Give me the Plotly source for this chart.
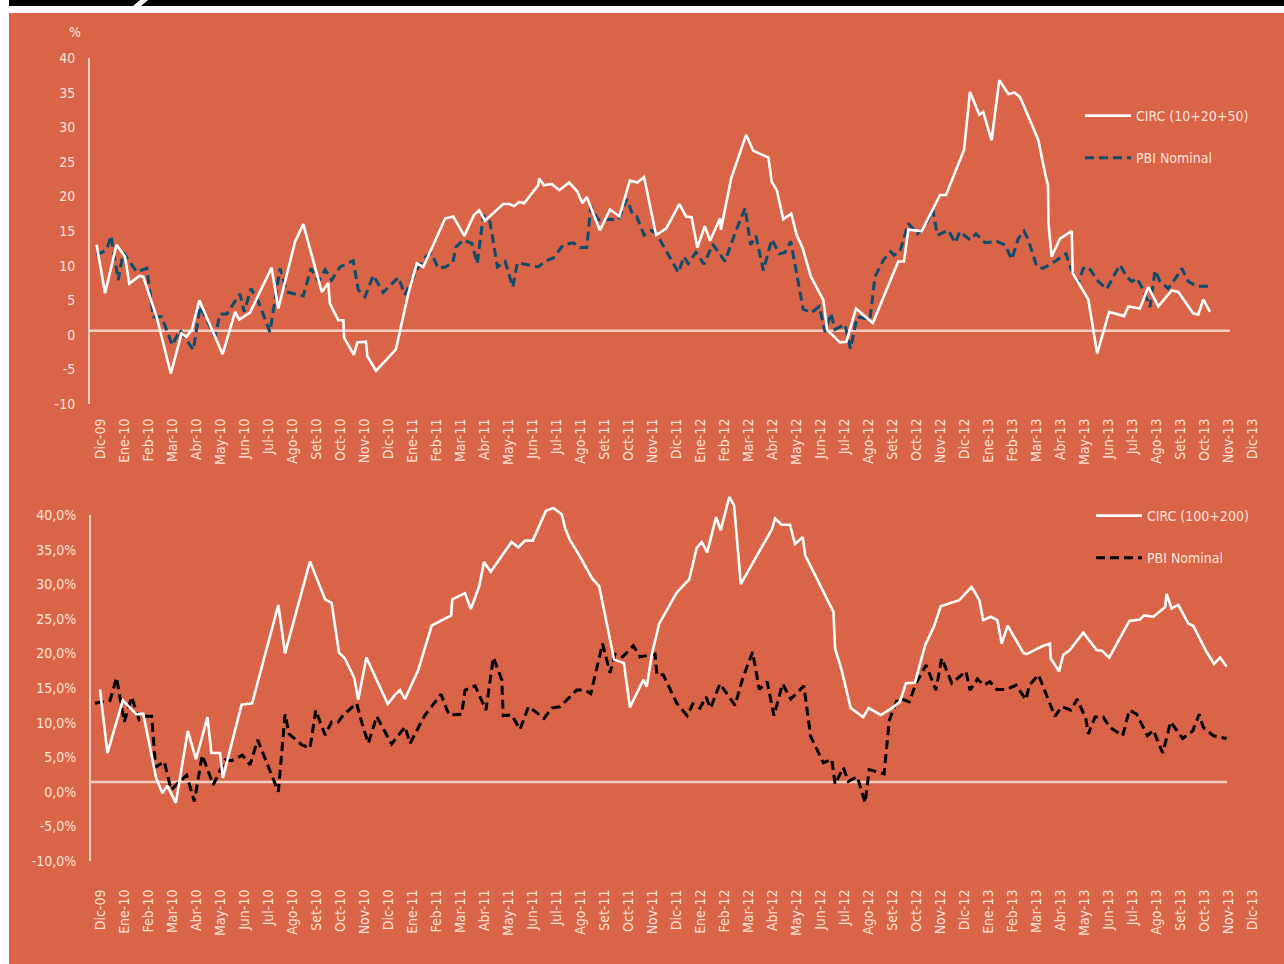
import plotly.graph_objects as go

W, H = 1284, 964

# ---------------- data ----------------
# time axis: months since Dic-09 (0 = Dic-09, 1 = Ene-10, ...)
month_abbr = ["Ene", "Feb", "Mar", "Abr", "May", "Jun", "Jul", "Ago", "Set", "Oct", "Nov", "Dic"]
tick_labels = ["Dic-09"] + [f"{m}-{y:02d}" for y in range(10, 14) for m in month_abbr]
tick_pos = list(range(len(tick_labels)))

top_circ_t = [-0.14, 0.21, 0.69, 1.04, 1.22, 1.64, 1.8, 2.36, 2.95, 3.4, 3.6, 3.82, 4.14, 5.11, 5.63, 5.8, 6.25,
              7.15, 7.43, 8.13, 8.47, 9.24, 9.51, 9.58, 9.93, 10.14, 10.17, 10.58, 10.72, 11.08, 11.14, 11.5,
              12.33, 12.85, 13.2, 13.47, 14.38, 14.72, 15.18, 15.58, 15.8, 16.04, 16.8, 17.06, 17.26, 17.47,
              17.67, 18.26, 18.3, 18.5, 18.82, 19.14, 19.55, 19.89, 20.1, 20.28, 20.83, 21.25, 21.64, 22.08,
              22.39, 22.67, 23.17, 23.6, 24.14, 24.42, 24.65, 24.89, 25.2, 25.42, 25.83, 25.87, 26.3, 26.92,
              27.22, 27.85, 27.99, 28.2, 28.47, 28.8, 29.03, 29.28, 29.61, 30.14, 30.3, 30.83, 31.1, 31.5,
              32.2, 33.26, 33.5, 33.68, 34.24, 35.0, 35.25, 36.0, 36.25, 36.64, 36.8, 37.15, 37.47, 37.85,
              38.1, 38.33, 38.75, 39.1, 39.38, 39.5, 39.52, 39.65, 40.0, 40.49, 40.53, 41.18, 41.55, 42.05,
              42.67, 42.85, 43.33, 43.68, 44.1, 44.65, 44.93, 45.55, 45.76, 45.97, 46.25]
top_circ_v = [13.0, 6.0, 13.0, 11.3, 7.4, 8.5, 8.4, 2.6, -5.6, 0.2, -0.3, 0.7, 5.0, -2.8, 3.3, 2.2, 3.2,
              9.7, 3.8, 13.5, 16.0, 6.2, 7.5, 4.5, 2.1, 2.1, -0.4, -2.9, -1.1, -1.0, -3.1, -5.2,
              -2.1, 6.0, 10.3, 9.8, 16.8, 17.1, 14.3, 17.3, 18.0, 16.5, 18.9, 18.9, 18.6, 19.2,
              19.0, 21.6, 22.6, 21.6, 21.8, 20.9, 22.0, 20.7, 19.0, 19.9, 15.1, 18.1, 17.1, 22.3,
              22.0, 22.8, 14.4, 15.4, 18.9, 17.1, 17.0, 12.6, 15.7, 13.6, 16.8, 15.2, 22.6, 28.9,
              26.6, 25.6, 22.1, 20.9, 16.7, 17.5, 14.4, 12.5, 8.5, 5.0, 0.7, -1.1, -1.0, 3.8,
              1.7, 10.6, 10.6, 15.2, 15.0, 20.2, 20.2, 26.7, 35.1, 31.8, 32.2, 28.1, 36.8, 34.8,
              35.0, 34.4, 31.0, 28.1, 23.3, 21.6, 16.1, 11.3, 13.9, 15.0, 8.9, 5.1, -2.7, 3.3,
              2.7, 4.1, 3.8, 6.9, 4.1, 6.4, 6.2, 3.1, 2.9, 5.1, 3.3]

top_pbi_t = [-0.14, 0.28, 0.46, 0.76, 0.97, 1.53, 1.95, 2.22, 2.57, 3.01, 3.33, 3.89, 4.17, 4.79, 5.0, 5.28,
             5.83, 6.01, 6.29, 6.6, 7.08, 7.5, 7.78, 8.47, 8.79, 9.1, 9.38, 9.65, 10.0, 10.55, 10.76, 11.04,
             11.39, 11.8, 12.43, 12.71, 13.2, 13.58, 13.8, 14.1, 14.38, 14.7, 14.83, 15.14, 15.49, 15.72,
             15.97, 16.25, 16.56, 16.88, 17.2, 17.39, 18.26, 18.54, 18.89, 19.3, 19.72, 20.0, 20.28, 20.45,
             20.76, 21.18, 21.6, 21.95, 22.2, 22.36, 22.67, 22.99, 23.22, 24.1, 24.33, 24.51, 24.83, 25.17,
             25.53, 26.04, 26.46, 26.88, 27.11, 27.33, 27.64, 27.99, 28.3, 28.54, 28.78, 29.17, 29.3, 29.65,
             29.97, 30.21, 30.45, 30.63, 31.04, 31.27, 31.55, 32.08, 32.29, 32.64, 32.95, 33.08, 33.33,
             33.68, 34.05, 34.38, 34.7, 34.89, 35.35, 35.63, 35.83, 36.25, 36.5, 36.88, 37.36, 37.71, 37.99,
             38.26, 38.5, 38.68, 39.03, 39.3, 39.61, 39.83, 40.11, 40.25, 40.45, 40.76, 40.97, 41.18, 41.6,
             41.95, 42.22, 42.5, 42.78, 42.99, 43.2, 43.47, 43.75, 43.96, 44.17, 44.51, 44.86, 45.07, 45.35,
             45.7, 46.25]
top_pbi_v = [11.5, 12.3, 14.3, 7.9, 11.9, 9.1, 9.6, 2.6, 2.6, -1.5, 0.7, -2.2, 4.1, -0.3, 3.0, 3.0,
             5.9, 3.3, 6.7, 4.8, 0.4, 9.6, 6.2, 5.6, 9.6, 7.7, 9.4, 7.9, 9.8, 10.7, 6.5, 5.5,
             8.6, 6.1, 8.3, 5.8, 9.4, 11.3, 11.8, 9.6, 9.8, 10.4, 12.7, 13.7, 13.2, 10.3,
             17.3, 16.3, 9.8, 10.6, 6.9, 10.4, 9.8, 10.6, 11.1, 13.0, 13.3, 12.6, 12.6, 18.5,
             16.6, 16.7, 16.6, 19.6, 17.3, 17.1, 14.4, 15.1, 14.4, 9.0, 11.3, 10.3, 11.9, 10.2,
             13.1, 10.6, 14.7, 18.3, 13.0, 14.3, 9.3, 13.8, 11.7, 11.9, 13.5, 5.8, 3.7, 3.2,
             4.1, 0.4, 3.1, 0.8, 1.5, -2.0, 2.6, 2.2, 8.4, 10.8, 12.0, 11.5, 12.0,
             16.1, 14.6, 15.6, 18.1, 14.4, 15.1, 13.3, 14.9, 13.7, 14.6, 13.3, 13.5, 13.0, 10.9,
             13.9, 15.0, 13.7, 9.9, 9.6, 10.2, 10.7, 11.4, 11.7, 9.6, 7.5, 9.6, 9.8, 7.7,
             6.6, 8.4, 10.1, 8.4, 7.7, 8.2, 6.5, 4.0, 9.3, 7.7, 6.7, 8.4, 9.6, 7.7,
             7.0, 7.0]

bot_circ_t = [0.0, 0.31, 0.95, 1.52, 1.8, 2.34, 2.6, 2.8, 3.16, 3.66, 4.0, 4.48, 4.64, 5.0, 5.12, 5.9, 6.34,
              7.43, 7.71, 8.75, 9.38, 9.65, 9.96, 10.2, 10.6, 10.76, 11.1, 11.99, 12.29, 12.5, 12.71, 13.26,
              13.82, 14.63, 14.68, 15.21, 15.45, 15.8, 16.0, 16.28, 17.15, 17.43, 17.71, 18.03, 18.58, 18.89,
              19.24, 19.38, 19.58, 20.0, 20.49, 20.8, 21.42, 21.83, 22.08, 22.64, 22.78, 22.99, 23.3, 24.03,
              24.55, 24.86, 25.07, 25.3, 25.67, 25.86, 26.22, 26.42, 26.7, 27.99, 28.13, 28.4, 28.75, 28.96,
              29.28, 29.38, 30.56, 30.63, 30.9, 31.28, 31.8, 32.03, 32.53, 32.99, 33.33, 33.58, 33.96, 34.38,
              34.75, 35.03, 35.8, 36.32, 36.64, 36.8, 37.11, 37.39, 37.57, 37.82, 38.47, 38.61, 39.3, 39.58,
              39.61, 39.96, 40.14, 40.39, 40.97, 41.53, 41.74, 42.05, 42.89, 43.33, 43.5, 43.89, 44.38, 44.44,
              44.65, 44.93, 45.35, 45.55, 46.11, 46.42, 46.67, 46.94]
bot_circ_v = [14.8, 5.6, 13.2, 11.2, 11.3, 2.0, -0.2, 0.9, -1.6, 8.8, 4.7, 10.8, 5.6, 5.6, 2.0, 12.6, 12.8,
              27.0, 20.0, 33.3, 27.8, 27.3, 20.1, 19.3, 16.4, 13.3, 19.4, 12.7, 14.0, 14.7, 13.4, 17.6,
              24.0, 25.5, 27.8, 28.7, 26.4, 29.7, 33.2, 31.8, 36.1, 35.3, 36.3, 36.3, 40.6, 41.0,
              40.1, 38.1, 36.4, 34.0, 30.9, 29.7, 19.1, 18.6, 12.2, 16.2, 15.2, 19.8, 24.3, 28.8,
              30.7, 35.2, 36.1, 34.6, 39.7, 37.8, 42.6, 41.4, 30.0, 37.9, 39.5, 38.6, 38.6, 35.8,
              36.8, 34.2, 26.0, 20.7, 17.6, 12.1, 10.8, 12.1, 11.1, 12.1, 13.0, 15.7, 15.8, 21.2,
              23.9, 26.8, 27.7, 29.6, 27.7, 24.8, 25.3, 24.8, 21.4, 24.0, 20.1, 19.9, 21.1, 21.4,
              19.3, 17.4, 19.8, 20.4, 23.0, 20.5, 20.4, 19.4, 24.7, 24.9, 25.5, 25.3, 26.7, 28.6,
              26.5, 27.0, 24.3, 24.0, 20.2, 18.5, 19.4, 18.1]

bot_pbi_t = [-0.21, 0.42, 0.69, 1.01, 1.32, 1.63, 1.88, 2.15, 2.32, 2.68, 2.96, 3.61, 3.93, 4.26, 4.72, 5.21,
             5.49, 5.93, 6.25, 6.57, 7.43, 7.71, 7.88, 8.4, 8.75, 8.99, 9.38, 9.65, 9.93, 10.14, 10.69, 10.9,
             11.18, 11.53, 12.15, 12.71, 12.92, 13.54, 14.21, 14.54, 15.07, 15.21, 15.63, 16.08, 16.39, 16.74,
             16.8, 17.15, 17.5, 17.85, 18.06, 18.5, 18.82, 19.17, 19.86, 20.21, 20.45, 20.94, 21.25, 21.46,
             21.78, 22.22, 22.5, 23.13, 23.2, 23.47, 24.03, 24.47, 24.7, 25.0, 25.25, 25.44, 25.83, 26.46,
             26.78, 27.19, 27.47, 27.8, 28.08, 28.44, 28.78, 29.33, 29.61, 30.14, 30.49, 30.63, 30.97, 31.18,
             31.55, 31.88, 32.05, 32.67, 32.89, 33.22, 33.33, 33.72, 34.0, 34.42, 34.83, 35.07, 35.49, 36.08,
             36.25, 36.56, 36.83, 37.08, 37.36, 37.78, 38.17, 38.58, 38.72, 39.1, 39.79, 40.07, 40.45, 40.72,
             41.08, 41.18, 41.46, 41.8, 42.08, 42.61, 42.89, 43.2, 43.64, 43.89, 44.28, 44.61, 45.11, 45.53,
             45.8, 45.97, 46.39, 46.94]
bot_pbi_v = [12.8, 13.2, 16.5, 10.1, 13.7, 10.4, 10.9, 10.9, 3.6, 4.35, 0.3, 2.4, -1.4, 5.3, 1.0, 4.6,
             4.5, 5.3, 3.9, 7.5, 0.0, 11.2, 8.35, 6.8, 6.3, 11.8, 8.2, 10.1, 10.1, 11.1, 12.8, 10.1,
             7.0, 10.9, 6.9, 9.4, 7.0, 11.1, 14.1, 11.1, 11.2, 14.7, 15.3, 11.8, 19.4, 16.2,
             11.0, 11.1, 9.0, 12.3, 11.8, 10.6, 12.1, 12.3, 14.7, 14.7, 14.2, 21.4, 17.2, 19.9,
             19.5, 21.1, 19.5, 19.9, 16.9, 16.9, 12.8, 11.0, 12.7, 12.1, 13.7, 12.1, 15.6, 12.5,
             16.4, 20.2, 14.8, 15.9, 11.0, 15.6, 13.4, 15.3, 8.0, 4.2, 4.7, 1.1, 3.5, 1.5,
             2.2, -1.6, 3.2, 2.6, 10.4, 13.3, 13.5, 13.0, 15.7, 18.3, 14.7, 19.3, 15.7, 17.4,
             14.7, 16.3, 15.4, 15.9, 14.8, 14.8, 15.4, 13.3, 15.4, 16.9, 10.9, 12.3, 11.8, 13.4,
             10.5, 8.35, 10.8, 10.8, 9.3, 8.1, 11.8, 11.2, 8.1, 8.9, 5.6, 10.1, 7.7, 8.8,
             11.2, 9.3, 8.1, 7.7]

# horizontal reference lines (value, x-start, x-end in months)
top_ref = {"y": 0.6, "x": [-0.42, 47.08]}
bot_ref = {"y": 1.4, "x": [-0.42, 46.96]}

y_ticks = [40, 35, 30, 25, 20, 15, 10, 5, 0, -5, -10]
top_ytick_text = [str(v) for v in y_ticks]
bot_ytick_text = [f"{v},0%" for v in y_ticks]

# ---------------- style ----------------
ORANGE = "#D96448"
TXT = "#FBE3DA"
AXIS = "#F3CFC2"
BLUE = "#0C4C6D"
FONT = "Liberation Sans Narrow, Arial Narrow, DejaVu Sans Condensed, Roboto Condensed, Roboto, sans-serif"

PX_PER_UNIT = 6.92  # vertical pixels per percentage point


def px(x):
    return x / W


def py(y):
    return 1 - y / H


fig = go.Figure()

fig.add_trace(go.Scatter(x=top_ref["x"], y=[top_ref["y"]] * 2, mode="lines",
                         line=dict(color=AXIS, width=2.5), showlegend=False, hoverinfo="skip",
                         xaxis="x", yaxis="y"))
fig.add_trace(go.Scatter(x=bot_ref["x"], y=[bot_ref["y"]] * 2, mode="lines",
                         line=dict(color=AXIS, width=2.5), showlegend=False, hoverinfo="skip",
                         xaxis="x2", yaxis="y2"))

fig.add_trace(go.Scatter(x=top_pbi_t, y=top_pbi_v, mode="lines", name="PBI Nominal",
                         line=dict(color=BLUE, width=3, dash="9px,5px"),
                         xaxis="x", yaxis="y", legend="legend", legendgroup="b", legendrank=2))
fig.add_trace(go.Scatter(x=top_circ_t, y=top_circ_v, mode="lines", name="CIRC (10+20+50)",
                         line=dict(color="white", width=2.6),
                         xaxis="x", yaxis="y", legend="legend", legendgroup="a", legendrank=1))

fig.add_trace(go.Scatter(x=bot_pbi_t, y=bot_pbi_v, mode="lines", name="PBI Nominal",
                         line=dict(color="black", width=3, dash="9px,5px"),
                         xaxis="x2", yaxis="y2", legend="legend2", legendgroup="d", legendrank=2))
fig.add_trace(go.Scatter(x=bot_circ_t, y=bot_circ_v, mode="lines", name="CIRC (100+200)",
                         line=dict(color="white", width=2.6),
                         xaxis="x2", yaxis="y2", legend="legend2", legendgroup="c", legendrank=1))

x_range = [(90 - 100) / 24, (1262 - 100) / 24]
xcommon = dict(range=x_range, domain=[px(90), px(1262)], tickmode="array", tickvals=tick_pos,
               ticktext=tick_labels, tickangle=-90, showgrid=False, zeroline=False, showline=False,
               ticks="outside", tickcolor="rgba(0,0,0,0)", automargin=False,
               tickfont=dict(family=FONT, size=14, color=TXT))
ycommon = dict(tickmode="array", tickvals=y_ticks, showgrid=False, zeroline=False,
               ticks="outside", ticklen=10, automargin=False,
               tickcolor="rgba(0,0,0,0)", tickfont=dict(family=FONT, size=14, color=TXT))

# bottom panel: extend top of range so the series can exceed 40 without clipping
bot_top = 44
bot_top_px = 515 - (bot_top - 40) * PX_PER_UNIT

legend_common = dict(bgcolor="rgba(0,0,0,0)", font=dict(family=FONT, size=14, color=TXT),
                     traceorder="grouped", tracegroupgap=21, itemwidth=46,
                     xanchor="left", yanchor="top", itemclick=False, itemdoubleclick=False)

fig.update_layout(
    width=W, height=H, autosize=False,
    margin=dict(l=0, r=0, t=0, b=0, pad=0),
    paper_bgcolor="white", plot_bgcolor="rgba(0,0,0,0)",
    font=dict(family=FONT, color=TXT),
    xaxis=dict(xcommon, anchor="y", ticklen=8),
    yaxis=dict(ycommon, anchor="x", range=[-10, 40], domain=[py(404), py(58)],
               ticktext=top_ytick_text, showline=True, linecolor=AXIS, linewidth=2),
    xaxis2=dict(xcommon, anchor="y2", ticklen=22),
    yaxis2=dict(ycommon, anchor="x2", range=[-10, bot_top], domain=[py(861), py(bot_top_px)],
                ticktext=bot_ytick_text, showline=False),
    legend=dict(legend_common, x=px(1080), y=py(100)),
    legend2=dict(legend_common, x=px(1091), y=py(500)),
    shapes=[
        dict(type="rect", xref="paper", yref="paper", x0=px(9), x1=1, y0=0, y1=py(13),
             fillcolor=ORANGE, line=dict(width=0), layer="below"),
        dict(type="rect", xref="paper", yref="paper", x0=px(9), x1=1, y0=py(6), y1=1,
             fillcolor="black", line=dict(width=0), layer="below"),
        dict(type="path", xref="paper", yref="paper",
             path=f"M{px(133)},{py(6)} L{px(141)},{py(6)} L{px(148)},{py(0)} L{px(140)},{py(0)} Z",
             fillcolor="white", line=dict(width=0), layer="below"),
        # bottom panel axis line, from -10 to 40 only
        dict(type="line", xref="x2 domain", yref="y2", x0=0, x1=0, y0=-10, y1=40,
             line=dict(color=AXIS, width=2), layer="below"),
    ],
    annotations=[
        dict(text="%", xref="paper", yref="paper", x=px(75), y=py(32), showarrow=False,
             font=dict(family=FONT, size=14, color=TXT), xanchor="center", yanchor="middle"),
    ],
)

fig.write_html("out.html", config={"responsive": False})
